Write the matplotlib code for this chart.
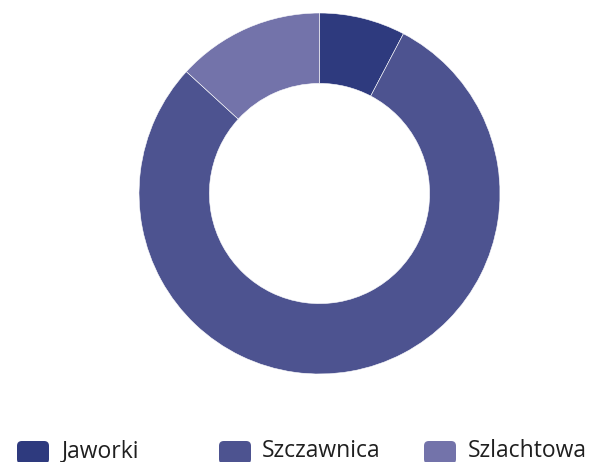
import matplotlib.pyplot as plt
from matplotlib.patches import FancyBboxPatch

labels = ['Jaworki', 'Szczawnica', 'Szlachtowa']
values = [7.7, 79.1, 13.2]
colors = ['#2e3a7e', '#4d5390', '#7373aa']

W, H = 605, 462
fig = plt.figure(figsize=(W / 100, H / 100), dpi=100)

# donut: centre (319.5, 193.5) px, radius 180.5 px
ax = fig.add_axes([139 / W, (H - 374) / H, 361 / W, 361 / H])
ax.pie(values, colors=colors, startangle=90, counterclock=False, radius=1,
       wedgeprops=dict(width=0.39, edgecolor='white', linewidth=0.4))
ax.set_xlim(-1, 1)
ax.set_ylim(-1, 1)
ax.set_aspect('equal')
ax.axis('off')

# legend along the bottom edge
sw_x = [17, 219, 424]
txt_x = [62, 262, 468]
for lab, col, sx, tx in zip(labels, colors, sw_x, txt_x):
    box = FancyBboxPatch((sx / W, (H - 464) / H), 32 / W, 23 / H,
                         boxstyle='round,pad=0,rounding_size=0.008',
                         transform=fig.transFigure, facecolor=col,
                         edgecolor='none', mutation_aspect=W / H)
    fig.patches.append(box)
    fig.text(tx / W, (H - 451) / H, lab, fontsize=16.5, color='#1f1f1f',
             family='Open Sans', va='center', ha='left')

fig.savefig('out.png', dpi=100)
